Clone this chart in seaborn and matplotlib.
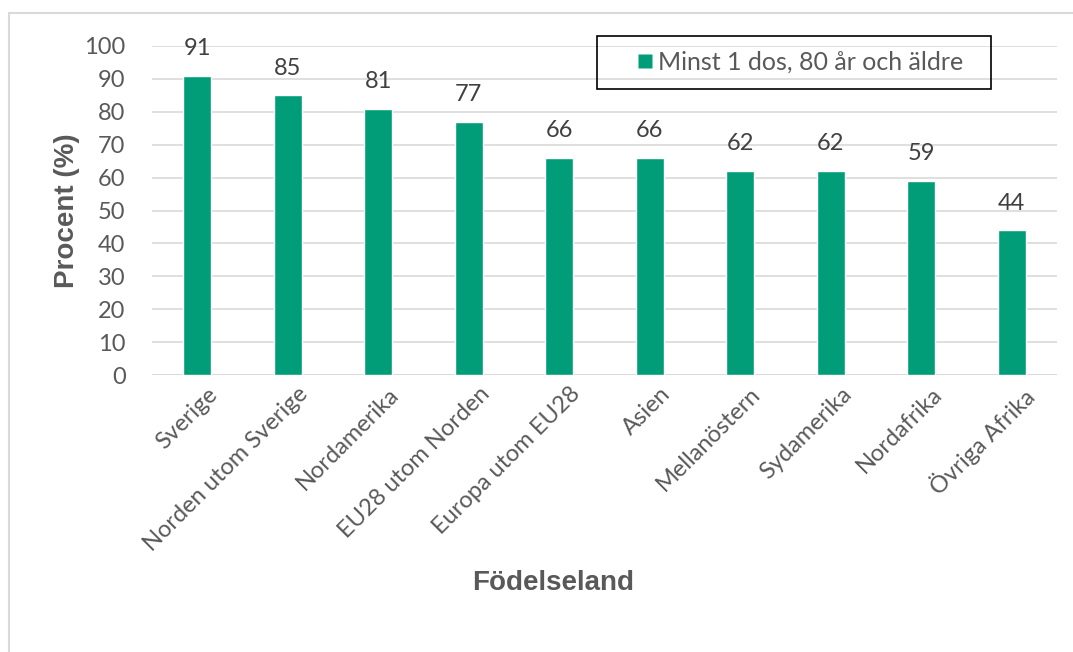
import matplotlib
matplotlib.use("Agg")
import matplotlib.pyplot as plt
import matplotlib.transforms as mtransforms
import seaborn as sns
import pandas as pd
from matplotlib.lines import Line2D
from matplotlib.patches import Rectangle

# Vaccination coverage by country of birth
categories = ["Sverige", "Norden utom Sverige", "Nordamerika", "EU28 utom Norden",
              "Europa utom EU28", "Asien", "Mellanöstern", "Sydamerika",
              "Nordafrika", "Övriga Afrika"]
values = [91, 85, 81, 77, 66, 66, 62, 62, 59, 44]
series_name = "Minst 1 dos, 80 år och äldre"
y_ticks = [0, 10, 20, 30, 40, 50, 60, 70, 80, 90, 100]

df = pd.DataFrame({"Födelseland": categories, "Procent": values})

sns.set_theme(style="white")
plt.rcParams["font.family"] = ["Lato", "DejaVu Sans"]

bar_color = "#019d78"
text_gray = "#595959"
grid_gray = "#d9d9d9"

W, H = 1073, 652
fig = plt.figure(figsize=(W / 100, H / 100), dpi=100)
left, right, top, bottom = 152, 1057, 46, 375
ax = fig.add_axes([left / W, 1 - bottom / H, (right - left) / W, (bottom - top) / H])

sns.barplot(data=df, x="Födelseland", y="Procent", color=bar_color,
            width=0.31, saturation=1, ax=ax)

ax.set_ylim(0, 100)
ax.set_xlim(-0.5, len(categories) - 0.5)
ax.set_yticks(y_ticks)
ax.set_yticklabels([str(t) for t in y_ticks], fontsize=17, color=text_gray)
ax.yaxis.grid(True, color=grid_gray, linewidth=1.2)
ax.set_axisbelow(True)
for s in ax.spines.values():
    s.set_visible(False)
ax.tick_params(axis="y", length=0, pad=19)
ax.tick_params(axis="x", length=0, pad=6)
ax.axhline(0, color=grid_gray, linewidth=1.2, zorder=0.5)

ax.set_xticks(range(len(categories)))
ax.set_xticklabels(categories, rotation=45, ha="right", rotation_mode="anchor",
                   fontsize=17, color=text_gray)
shift = mtransforms.ScaledTranslation(7 / 72, 0, fig.dpi_scale_trans)
for lbl in ax.get_xticklabels():
    lbl.set_transform(lbl.get_transform() + shift)

# value labels above bars
for i, v in enumerate(values):
    ax.annotate(f"{v}", xy=(i, v), xytext=(0, 19.5), textcoords="offset points",
                ha="center", va="center", fontsize=17, color="#404040")

ax.set_xlabel("Födelseland", fontsize=20, fontweight="bold", color=text_gray,
              family="Liberation Sans")
ax.set_ylabel("Procent (%)", fontsize=20, fontweight="bold", color=text_gray,
              family="Liberation Sans")
aw, ah = right - left, bottom - top
ax.xaxis.set_label_coords((553.5 - left) / aw, -(583 - bottom) / ah)
ax.yaxis.set_label_coords(-(left - 67) / aw, 0.5)
ax.xaxis.label.set_va("center")
ax.yaxis.label.set_va("center")

# legend: entry without its own frame, boxed by a separate rectangle
handle = Line2D([], [], marker="s", linestyle="none", markersize=10,
                markerfacecolor=bar_color, markeredgecolor="none")
leg = ax.legend([handle], [series_name], loc="center left",
                bbox_to_anchor=((638 - left) / aw, 1 + (top - 62.5) / ah),
                frameon=False, fontsize=18,
                handlelength=0.56, handletextpad=0.24,
                borderpad=0, borderaxespad=0)
for t in leg.get_texts():
    t.set_color(text_gray)
fig.add_artist(Rectangle((597 / W, 1 - 89 / H), (991 - 597) / W, (89 - 36) / H,
                         transform=fig.transFigure, fill=False,
                         edgecolor="black", linewidth=1.2))

# chart area border (top and left)
fig.add_artist(Line2D([9 / W, 9 / W], [0, 1 - 13 / H],
                      transform=fig.transFigure, color="#d9d9d9", linewidth=1.5))
fig.add_artist(Line2D([9 / W, 1], [1 - 13 / H, 1 - 13 / H],
                      transform=fig.transFigure, color="#d9d9d9", linewidth=1.5))

fig.savefig("out.png", dpi=100, facecolor="white")
